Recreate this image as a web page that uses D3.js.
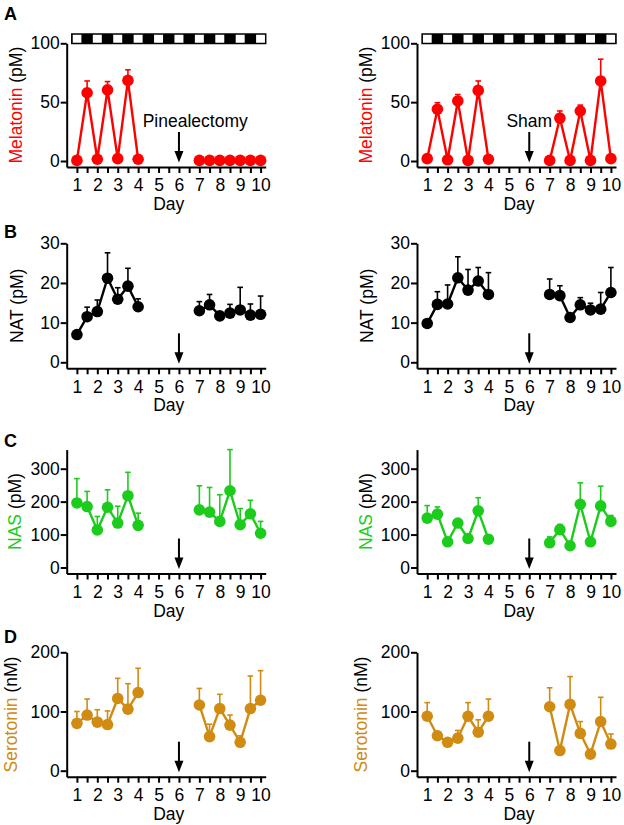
<!DOCTYPE html>
<html>
<head>
<meta charset="utf-8">
<script src="https://cdn.jsdelivr.net/npm/d3@7"></script>
<style>
body { margin: 0; background: #fff; }
text { font-family: "Liberation Sans", Arial, sans-serif; }
</style>
</head>
<body>
<script>
//sampling times (days), before and after surgery
var days = [1, 1.5, 2, 2.5, 3, 3.5, 4, 7, 7.5, 8, 8.5, 9, 9.5, 10];
var dayTicks = [1, 2, 3, 4, 5, 6, 7, 8, 9, 10];

//melatonin (pM)
var melPinx = [0.5, 58, 1.5, 60.5, 2, 68.5, 1.5, 0.5, 0.5, 0.5, 0.5, 0.5, 0.5, 0.5];
var melPinxSem = [0, 10, 0, 7, 0, 9, 0, 0, 0, 0, 0, 0, 0, 0];
var melSham = [2, 44, 1, 51, 0.5, 60, 1.5, 0.5, 36.5, 0.5, 42.5, 0.5, 68, 2];
var melShamSem = [0, 5.5, 0, 5.5, 0, 8, 0, 0, 6, 0, 5, 0, 18.5, 0];

//NAT (pM)
var natPinx = [7, 11.5, 12.8, 21.2, 15.9, 19.2, 14, 13, 14.5, 11.7, 12.4, 13.2, 11.9, 12.1];
var natPinxSem = [0.6, 2.4, 2.9, 6.4, 2.9, 4.5, 2, 2.3, 2.6, 0.3, 2.2, 5.7, 2.8, 4.6];
var natSham = [9.8, 14.6, 14.7, 21.3, 18.2, 20.5, 17.1, 17.1, 16.8, 11.3, 14.5, 13.2, 13.4, 17.6];
var natShamSem = [0, 3.2, 4.8, 5.3, 5.2, 3.4, 5.5, 3.9, 2.5, 0, 1.8, 1.7, 4.2, 6.3];

//NAS (pM)
var nasPinx = [196, 185, 114, 183, 135, 218, 128, 175, 168, 140, 233, 130, 163, 104];
var nasPinxSem = [74, 46, 41, 53, 51, 71, 37, 73, 75, 81, 125, 49, 41, 36];
var nasSham = [150, 162, 78, 135, 88, 172, 86, 75, 115, 66, 192, 78, 187, 140];
var nasShamSem = [38, 22, 0, 0, 0, 40, 10, 18, 16, 0, 65, 0, 60, 18];

//serotonin (nM)
var serPinx = [80, 94, 82, 78, 122, 104, 132, 111, 57.5, 105, 77, 48, 105, 119];
var serPinxSem = [20, 27, 21, 23, 34, 43, 41, 28, 21, 24, 17, 11, 55, 50];
var serSham = [92, 59, 48, 55, 92, 65, 92, 108, 34, 112, 63, 28, 83, 45];
var serShamSem = [23, 7, 0, 13, 23, 21, 29, 32, 0, 47, 20, 0, 41, 17];

//y tick labels
var melTicks = [0, 50, 100];
var natTicks = [0, 10, 20, 30];
var nasTicks = [0, 100, 200, 300];
var serTicks = [0, 100, 200];

var width = 624,
    height = 825;

var svg = d3.select("body")
    .append("svg")
    .attr("width", width)
    .attr("height", height);

//row layout: pixel of zero and of top tick
var rows = [
    {letter: "A", y0: 161, yTop: 43.3, top: 100, axisTop: 100, ticks: melTicks, name: "Melatonin", unit: "(pM)", color: "#ff0000", gap: 45, letterY: 20},
    {letter: "B", y0: 362.3, yTop: 243.3, top: 30, axisTop: 30, ticks: natTicks, name: "NAT", unit: "(pM)", color: "#000000", gap: 44, letterY: 238},
    {letter: "C", y0: 567.5, yTop: 468.7, top: 300, axisTop: 358, ticks: nasTicks, name: "NAS", unit: "(pM)", color: "#1ccc1c", gap: 45.5, letterY: 446.5},
    {letter: "D", y0: 770.7, yTop: 652.3, top: 200, axisTop: 200, ticks: serTicks, name: "Serotonin", unit: "(nM)", color: "#d08b12", gap: 50, letterY: 643}
];
var series = [
    [melPinx, melPinxSem, melSham, melShamSem],
    [natPinx, natPinxSem, natSham, natShamSem],
    [nasPinx, nasPinxSem, nasSham, nasShamSem],
    [serPinx, serPinxSem, serSham, serShamSem]
];
var cols = [66.7, 417];

rows.forEach(function(row, ri){
    cols.forEach(function(x0, ci){
        drawPanel(row, x0, ci, series[ri][ci * 2], series[ri][ci * 2 + 1], ri);
    });
    //panel letter
    svg.append("text")
        .attr("x", 4)
        .attr("y", row.letterY)
        .attr("font-size", "18px")
        .attr("font-weight", "bold")
        .text(row.letter);
});

function drawPanel(row, x0, ci, values, sem, ri){
    var x = d3.scaleLinear().domain([0.5, 10.25]).range([x0, x0 + 199]);
    var y = d3.scaleLinear().domain([0, row.top]).range([row.y0, row.yTop]);
    var yBase = row.y0 + 6;
    var yAxisScale = d3.scaleLinear()
        .domain([y.invert(yBase), row.axisTop])
        .range([yBase, y(row.axisTop)]);

    var g = svg.append("g");

    //x axis
    var xAxis = d3.axisBottom(x)
        .tickValues(d3.range(1, 10.01, 0.5))
        .tickFormat(function(d){ return dayTicks.indexOf(d) >= 0 ? d : ""; })
        .tickSize(6)
        .tickSizeOuter(0)
        .tickPadding(6);
    var xg = g.append("g")
        .attr("transform", "translate(0," + yBase + ")")
        .call(xAxis);

    //y axis
    var yAxis = d3.axisLeft(yAxisScale)
        .tickValues(row.ticks)
        .tickSize(6)
        .tickSizeOuter(0)
        .tickPadding(1);
    var yg = g.append("g")
        .attr("transform", "translate(" + x0 + ",0)")
        .call(yAxis);

    [xg, yg].forEach(function(a){
        a.attr("font-size", "17.5px").attr("font-family", "'Liberation Sans', Arial, sans-serif");
        a.selectAll("path, line").attr("stroke", "#000").attr("stroke-width", 2);
        a.selectAll("text").attr("fill", "#000");
    });

    //x label
    g.append("text")
        .attr("x", x(5.5))
        .attr("y", yBase + 43)
        .attr("text-anchor", "middle")
        .attr("font-size", "17.5px")
        .text("Day");

    //y label
    var yl = g.append("text")
        .attr("transform", "translate(" + (x0 - row.gap) + "," + ((yBase + y(row.axisTop)) / 2) + ") rotate(-90)")
        .attr("text-anchor", "middle")
        .attr("font-size", "17.5px");
    yl.append("tspan").attr("fill", row.color).text(row.name);
    yl.append("tspan").attr("fill", "#000").text(" " + row.unit);

    //light/dark bar on top of melatonin panels
    if (ri === 0){
        var barTop = 34, barH = 9.5;
        g.append("rect")
            .attr("x", x(0.75)).attr("y", barTop)
            .attr("width", x(10.25) - x(0.75)).attr("height", barH)
            .attr("fill", "#000");
        g.selectAll(".light")
            .data(dayTicks)
            .enter().append("rect")
            .attr("x", function(d){ return x(Math.max(0.75, d - 0.22)); })
            .attr("y", barTop)
            .attr("width", function(d){ return x(Math.min(10.25, d + 0.22)) - x(Math.max(0.75, d - 0.22)); })
            .attr("height", barH)
            .attr("fill", "#fff");
        g.append("rect")
            .attr("x", x(0.75)).attr("y", barTop)
            .attr("width", x(10.25) - x(0.75)).attr("height", barH)
            .attr("fill", "none").attr("stroke", "#000").attr("stroke-width", 1.5);
    }

    //surgery arrow at day 6
    var ax = x(6);
    g.append("line")
        .attr("x1", ax).attr("x2", ax)
        .attr("y1", row.y0 - 29).attr("y2", row.y0 - 8)
        .attr("stroke", "#000").attr("stroke-width", 2);
    g.append("path")
        .attr("d", "M" + (ax - 4.5) + "," + (row.y0 - 10) + "L" + (ax + 4.5) + "," + (row.y0 - 10) + "L" + ax + "," + (row.y0 + 1.5) + "Z")
        .attr("fill", "#000");

    if (ri === 0){
        g.append("text")
            .attr("x", ci === 0 ? x0 + 76 : ax)
            .attr("y", row.y0 - 34)
            .attr("text-anchor", ci === 0 ? "start" : "middle")
            .attr("font-size", "17.5px")
            .text(ci === 0 ? "Pinealectomy" : "Sham");
    }

    var pts = days.map(function(d, i){ return {day: d, v: values[i], s: sem[i]}; });
    var segments = [pts.filter(function(p){ return p.day < 5; }), pts.filter(function(p){ return p.day > 5; })];

    var line = d3.line()
        .x(function(p){ return x(p.day); })
        .y(function(p){ return y(p.v); });

    g.selectAll(".seg")
        .data(segments)
        .enter().append("path")
        .attr("d", line)
        .attr("fill", "none")
        .attr("stroke", row.color)
        .attr("stroke-width", 2.4);

    //upper error bars
    var eb = g.selectAll(".err")
        .data(pts.filter(function(p){ return p.s > 0; }))
        .enter().append("g");
    eb.append("line")
        .attr("x1", function(p){ return x(p.day); })
        .attr("x2", function(p){ return x(p.day); })
        .attr("y1", function(p){ return y(p.v); })
        .attr("y2", function(p){ return y(p.v + p.s); })
        .attr("stroke", row.color).attr("stroke-width", 1.6);
    eb.append("line")
        .attr("x1", function(p){ return x(p.day) - 2.8; })
        .attr("x2", function(p){ return x(p.day) + 2.8; })
        .attr("y1", function(p){ return y(p.v + p.s); })
        .attr("y2", function(p){ return y(p.v + p.s); })
        .attr("stroke", row.color).attr("stroke-width", 1.6);

    g.selectAll(".dot")
        .data(pts)
        .enter().append("circle")
        .attr("cx", function(p){ return x(p.day); })
        .attr("cy", function(p){ return y(p.v); })
        .attr("r", 5.8)
        .attr("fill", row.color);
}
</script>
</body>
</html>
